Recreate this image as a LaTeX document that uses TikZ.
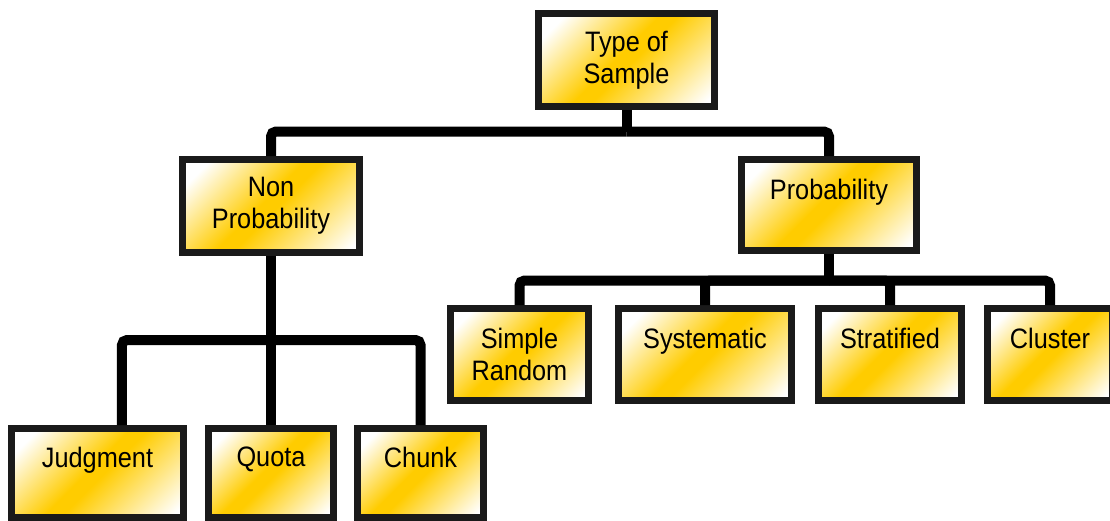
\documentclass[tikz,border=0pt]{standalone}
\usepackage{fontspec}
\setmainfont{Liberation Sans}[FakeStretch=0.9]
\usetikzlibrary{calc}
\definecolor{gold}{RGB}{255,204,0}
\definecolor{edge}{RGB}{26,26,26}
\pgfdeclarehorizontalshading{goldband}{100bp}{color(0bp)=(white); color(22bp)=(white); color(47bp)=(gold); color(52bp)=(gold); color(82bp)=(white); color(100bp)=(white)}
\tikzset{
    box/.style={draw=edge, line width=0.14cm, shading=goldband, shading angle=-45,
        inner sep=0pt, minimum height=1.84cm, align=center,
        font=\fontsize{16}{18.2}\selectfont},
    link/.style={line width=0.2cm, rounded corners=0.1cm}
}

\begin{document}
\begin{tikzpicture}[x=0.02cm, y=-0.02cm]
    \useasboundingbox (0,0) rectangle (1110,521);
    % levels, top to bottom
    \node [box, minimum width=3.52cm, minimum height=1.86cm] (type) at (626.5,60) {Type of\\Sample};
    \node [box, minimum width=3.54cm, minimum height=1.86cm] (nonprob) at (271,206) {Non\\Probability};
    \node [box, minimum width=3.50cm, minimum height=1.82cm] (prob) at (829,205) {Probability\\\mbox{}};
    \node [box, minimum width=2.76cm] (simple) at (519.5,354.5) {Simple\\Random};
    \node [box, minimum width=3.46cm] (system) at (705,354.5) {Systematic\\\mbox{}};
    \node [box, minimum width=2.86cm] (strat) at (890,354.5) {Stratified\\\mbox{}};
    \node [box, minimum width=2.50cm] (cluster) at (1050,354.5) {Cluster\\\mbox{}};
    \node [box, minimum width=3.44cm, minimum height=1.78cm] (judg) at (97.5,473) {Judgment\\\mbox{}};
    \node [box, minimum width=2.50cm, minimum height=1.78cm] (quota) at (271,473) {Quota\\\mbox{}};
    \node [box, minimum width=2.52cm, minimum height=1.78cm] (chunk) at (420.5,473) {Chunk\\\mbox{}};
    % buses
    \coordinate (bustop) at (626.5,131.5);
    \coordinate (busprob) at (829,280.5);
    \coordinate (busnon) at (271,340);
    \draw [link] (type.south) -- (bustop);
    \draw [link] (bustop) -| (nonprob.north);
    \draw [link] (bustop) -| (prob.north);
    \draw [link] (prob.south) -- (busprob);
    \foreach \n in {simple, system, strat, cluster}{
        \draw [link] (busprob) -| (\n.north);
    }
    \draw [link] (nonprob.south) -- (quota.north);
    \draw [link] (busnon) -| ([xshift=0.49cm]judg.north);
    \draw [link] (busnon) -| (chunk.north);
\end{tikzpicture}
\end{document}
